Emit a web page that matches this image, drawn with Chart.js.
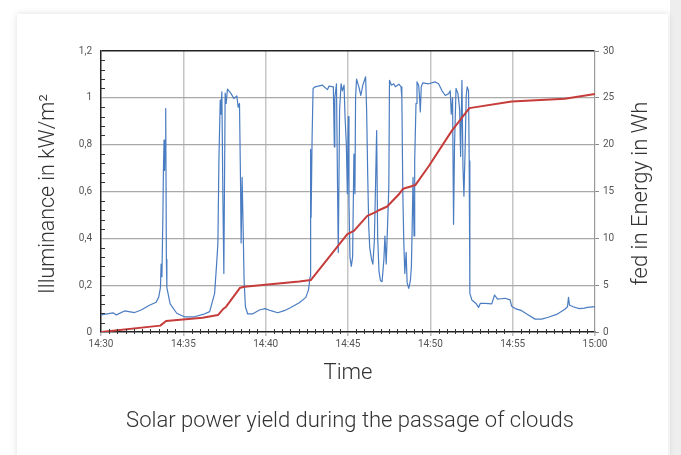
<!DOCTYPE html>
<html><head><meta charset="utf-8">
<script src="https://cdn.jsdelivr.net/npm/chart.js@4.4.0/dist/chart.umd.min.js"></script>
<style>
html,body{margin:0;padding:0;background:#fff;width:681px;height:455px;overflow:hidden;}
#strip{position:absolute;left:670px;top:0;width:11px;height:455px;background:#eeeeee;}
#card{position:absolute;left:17px;top:14px;width:651px;height:470px;background:#fff;box-shadow:0 0 7px rgba(0,0,0,0.13);}
#wrap{position:absolute;left:0;top:0;width:681px;height:455px;}
</style></head><body>
<div id="strip"></div><div id="card"></div>
<div id="wrap"><canvas id="c" width="681" height="455"></canvas></div>
<script>
// minutes after 14:30
const illumMinutes = [0,0.73,0.93,1.43,2.04,2.44,2.94,3.35,3.51,3.61,3.65,3.70,3.76,3.79,3.83,3.86,3.89,3.93,3.97,4.0,4.2,4.6,5.06,5.67,6.2,
6.6,6.9,7.04,7.1,7.16,7.24,7.28,7.34,7.40,7.46,7.54,7.60,7.68,7.9,8.07,8.25,8.33,8.41,8.47,8.51,8.57,8.63,8.69,8.77,8.91,9.2,9.62,9.96,10.32,10.73,11.13,11.53,12.04,12.44,12.6,12.7,12.72,12.74,12.76,12.82,12.88,
13.0,13.45,13.75,13.85,14.11,14.17,14.2,14.3,14.36,14.41,14.49,14.58,14.66,14.76,14.82,14.9,14.96,15.02,15.06,15.12,15.2,15.28,15.36,15.42,15.46,15.52,15.66,15.78,15.9,16.07,16.13,16.2,16.26,16.32,16.43,16.51,16.6,16.68,16.74,16.8,16.88,16.97,17.07,17.18,17.24,17.32,17.4,17.48,17.52,17.64,17.78,17.88,18.1,18.22,18.27,18.33,18.39,18.45,18.53,18.59,18.69,18.79,18.85,18.89,18.95,19.01,19.05,19.13,19.19,19.29,19.35,19.39,19.45,19.54,19.9,20.3,20.5,20.71,20.91,21.11,21.21,21.27,21.35,21.41,21.47,21.56,21.68,21.78,21.84,21.92,21.98,22.04,22.12,22.18,22.24,22.32,22.36,22.4,22.52,22.77,22.93,23.03,23.33,23.73,23.9,24.08,24.3,24.54,24.84,24.94,25.15,25.55,25.95,26.36,26.76,27.16,27.67,28.17,28.33,28.39,28.45,28.67,29.05,29.35,29.55,30];
const illumValues = [0.073,0.082,0.073,0.09,0.083,0.094,0.114,0.127,0.15,0.19,0.29,0.236,0.50,0.69,0.82,0.69,0.82,0.954,0.31,0.19,0.12,0.08,0.065,0.065,0.075,
0.087,0.165,0.31,0.38,0.73,0.99,0.93,1.026,0.59,0.25,1.02,0.976,1.037,1.018,0.997,1.008,0.96,0.976,0.66,0.38,0.66,0.45,0.22,0.108,0.077,0.077,0.094,0.1,0.091,0.082,0.091,0.105,0.125,0.148,0.18,0.236,0.49,0.78,0.49,0.83,1.04,
1.047,1.054,1.035,1.05,1.047,0.79,1.0,1.06,0.65,0.34,0.95,1.06,1.03,1.054,0.92,0.8,0.59,0.92,0.55,0.32,0.28,0.32,0.76,0.59,1.0,1.08,1.047,1.01,1.054,1.09,0.95,0.66,0.45,0.36,0.31,0.29,0.39,0.65,0.86,0.41,0.26,0.22,0.215,0.31,0.41,0.29,0.45,0.62,1.075,1.054,1.06,1.047,1.058,1.047,1.0,0.59,0.38,0.25,0.34,0.21,0.186,0.22,0.28,0.42,0.66,0.41,0.73,0.976,1.068,1.054,1.0,0.94,1.047,1.064,1.06,1.068,1.06,1.03,1.01,1.018,1.03,0.93,1.0,0.46,0.8,1.04,1.018,0.95,0.75,1.075,0.71,0.58,0.8,1.01,1.047,1.03,0.73,0.165,0.137,0.122,0.105,0.122,0.122,0.12,0.158,0.14,0.142,0.144,0.137,0.11,0.1,0.091,0.073,0.055,0.055,0.063,0.075,0.097,0.108,0.148,0.115,0.108,0.1,0.102,0.105,0.108];
const energyMinutes = [0,3.6,3.95,6.17,7.1,7.4,7.6,8.45,8.71,12.04,12.74,14.96,15.36,16.17,16.68,16.88,17.38,18.09,18.35,19.1,19.9,21.31,22.37,24.94,28.17,30];
const energyValues = [0,0.68,1.17,1.53,1.81,2.42,2.7,4.73,4.84,5.4,5.55,10.45,10.8,12.4,12.8,13.0,13.4,14.7,15.3,15.7,17.7,21.5,23.9,24.6,24.9,25.4];
const timeLabels = ['14:30','14:35','14:40','14:45','14:50','14:55','15:00'];
const illumTicks = [0,0.2,0.4,0.6,0.8,1,1.2];
const energyTicks = [0,5,10,15,20,25,30];
const xTitle = 'Time';
const yTitle = 'Illuminance in kW/m²';
const y1Title = 'fed in Energy in Wh';
const chartTitle = 'Solar power yield during the passage of clouds';

const FONT = 'Roboto, "Liberation Sans", sans-serif';
const TITLE_SIZE = 22;
const extras = {
  id: 'extras',
  afterDraw(chart) {
    const {ctx, scales: {x, y}, chartArea: a} = chart;
    ctx.save();
    ctx.strokeStyle = '#333'; ctx.lineWidth = 1;
    ctx.beginPath();
    for (let i = 1; i < 60; i++) {
      if (i % 10 === 0) continue;
      const px = Math.round(x.getPixelForValue(i * 0.5)) + 0.5;
      ctx.moveTo(px, a.bottom - 3); ctx.lineTo(px, a.bottom + 2);
    }
    for (let i = 1; i < 30; i++) {
      if (i % 5 === 0) continue;
      const py = Math.round(y.getPixelForValue(i * 0.04)) + 0.5;
      ctx.moveTo(a.left, py); ctx.lineTo(a.left + 4, py);
    }
    ctx.stroke();
    ctx.fillStyle = '#333';
    ctx.textAlign = 'center'; ctx.textBaseline = 'middle';
    // chart title
    ctx.font = '300 ' + TITLE_SIZE + 'px ' + FONT;
    ctx.fillText(chartTitle, 350, 421);
    // left axis title
    ctx.save();
    ctx.translate(49, 194);
    ctx.rotate(-Math.PI / 2);
    ctx.font = '300 21.4px ' + FONT;
    ctx.fillText(yTitle, 0, 0);
    ctx.restore();
    // right axis title
    ctx.translate(641, (a.top + a.bottom) / 2 + 2);
    ctx.rotate(-Math.PI / 2);
    ctx.font = '300 ' + TITLE_SIZE + 'px ' + FONT;
    ctx.fillText(y1Title, 0, 0);
    ctx.restore();
  }
};

new Chart(document.getElementById('c'), {
  type: 'line',
  data: {
    datasets: [
      { label: 'Illuminance', data: illumMinutes.map((m, i) => ({x: m, y: illumValues[i]})), yAxisID: 'y',
        borderColor: '#4a7cc1', borderWidth: 1.2, pointRadius: 0, tension: 0, borderJoinStyle: 'round', order: 2 },
      { label: 'Energy', data: energyMinutes.map((m, i) => ({x: m, y: energyValues[i]})), yAxisID: 'y1',
        borderColor: '#c53c3a', borderWidth: 2, pointRadius: 0, tension: 0, borderJoinStyle: 'round', order: 1 }
    ]
  },
  options: {
    responsive: false, animation: false, devicePixelRatio: 1,
    layout: { padding: { top: 51, left: 0, right: 0, bottom: 57.4 } },
    plugins: {
      legend: { display: false }, tooltip: { enabled: false }, title: { display: false }
    },
    scales: {
      x: {
        type: 'linear', min: 0, max: 30,
        afterFit: s => { s.height = 65.6; },
        ticks: { stepSize: 5, autoSkip: false, maxRotation: 0, padding: 2, color: '#555',
          font: { family: FONT, size: 10 },
          callback: v => (v % 5 === 0 ? timeLabels[Math.round(v / 5)] : '') },
        grid: { color: ctx => (ctx.tick && (ctx.tick.value === 0 || ctx.tick.value === 30)) ? 'rgba(0,0,0,0)' : '#c6c6c6',
          lineWidth: 1.5, drawTicks: true, tickLength: 4, tickColor: '#bbb' },
        border: { color: '#222', width: 1.5 },
        title: { display: true, text: xTitle, color: '#333', font: { family: FONT, size: TITLE_SIZE, weight: '300' }, padding: { top: 0, bottom: 10.5 } }
      },
      y: {
        position: 'left', min: 0, max: 1.2,
        afterFit: s => { s.width = 101; },
        afterBuildTicks: s => { s.ticks = illumTicks.map(v => ({value: v})); },
        ticks: { color: '#555', padding: 9, font: { family: FONT, size: 10 },
          callback: v => String(Math.round(v * 10) / 10).replace('.', ',') },
        grid: { color: ctx => (ctx.tick && ctx.tick.value >= 1.19) ? '#222' : (ctx.tick && ctx.tick.value === 0 ? 'rgba(0,0,0,0)' : '#a9a9a9'),
          lineWidth: ctx => (ctx.tick && ctx.tick.value >= 1.19) ? 1.5 : 1.2, drawTicks: false },
        border: { color: '#222', width: 1.5 }
      },
      y1: {
        position: 'right', min: 0, max: 30,
        afterFit: s => { s.width = 86; },
        afterBuildTicks: s => { s.ticks = energyTicks.map(v => ({value: v})); },
        ticks: { color: '#555', padding: 4, font: { family: FONT, size: 10 } },
        grid: { drawOnChartArea: false, drawTicks: true, tickLength: 4, tickColor: '#888' },
        border: { color: '#999', width: 1.2 }
      }
    }
  },
  plugins: [extras]
});
</script>
</body></html>
